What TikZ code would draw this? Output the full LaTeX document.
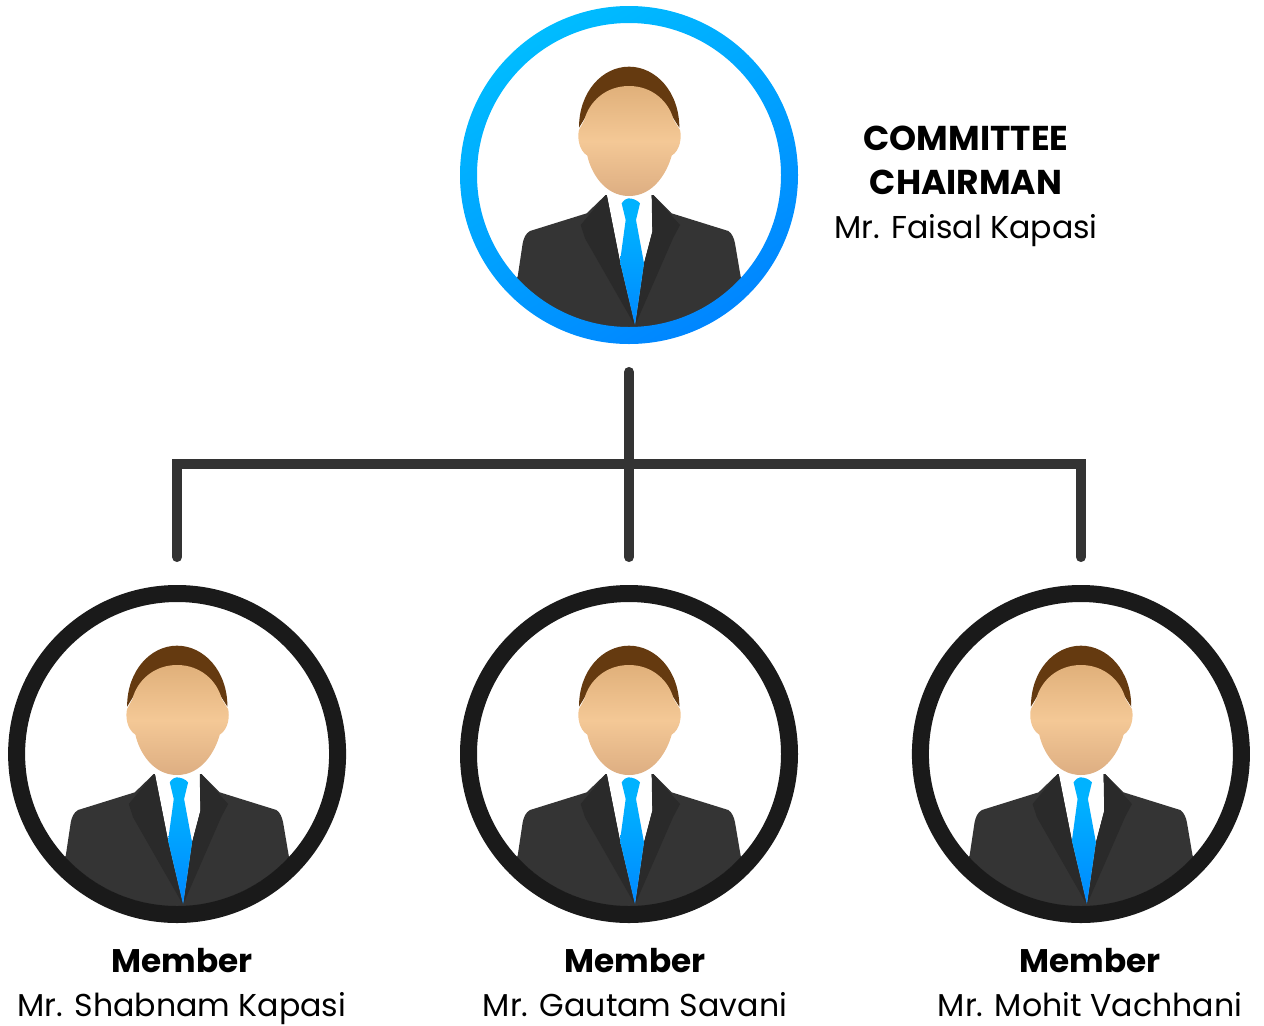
\documentclass[tikz,border=0pt]{standalone}
\usepackage{fontspec}
\setmainfont{Poppins}
\usetikzlibrary{positioning}
\definecolor{ringlight}{HTML}{00BCFF}
\definecolor{ringdeep}{HTML}{0086FF}
\definecolor{ringblack}{HTML}{1A1A1A}
\definecolor{linegrey}{HTML}{333333}
\definecolor{hairbrown}{HTML}{653A10}
\definecolor{skintop}{HTML}{E0B07A}
\definecolor{skinmid}{HTML}{F4C896}
\definecolor{skinlow}{HTML}{DDAE82}
\definecolor{suitgrey}{HTML}{343434}
\definecolor{lapelgrey}{HTML}{2A2A2A}
\definecolor{tietop}{HTML}{00B2FF}
\definecolor{tielow}{HTML}{0088FF}
\newcommand{\chairhead}[1]{{\fontsize{19.6}{25}\selectfont\bfseries #1}}
\newcommand{\memberhead}[1]{{\fontsize{18.6}{25}\selectfont\bfseries #1}}
\tikzset{
    anchorbox/.style = {circle, minimum size=6.76cm, inner sep=0pt, outer sep=0.56cm},
    chairring/.style = {shade, left color=ringlight, right color=ringdeep, shading angle=30},
    memberring/.style = {fill=ringblack},
    conn/.style = {draw=linegrey, line width=0.2cm, line cap=round, miter limit=10},
    titletext/.style = {anchor=north, align=center, font=\fontsize{18}{25}\selectfont, inner sep=0pt},
    person/.pic = {
        \begin{scope}
        \clip (0,0) circle (152.5);
        \begin{scope}[x=0.00667cm,y=-0.00667cm]
        \fill [suitgrey] (-70,60) -- (-127,115) -- (-297,168) .. controls (-310,175) and (-316,190) .. (-319,205) -- (-334,305) -- (-345,320) -- (-345,480) -- (345,480) -- (345,320) -- (335,305) -- (318,205) .. controls (315,190) and (309,175) .. (298,168) -- (128,115) -- (73,60) -- cycle;
        \fill [white] (-67,56) -- (68,56) -- (70,170) -- (45,265) -- (18,445) -- (-27,260) -- cycle;
        \fill [lapelgrey] (-70,60) -- (-145,150) -- (-132,190) -- (15,447) -- (-27,260) -- (-67,60) -- cycle;
        \fill [lapelgrey] (73,60) -- (153,150) -- (132,190) -- (20,447) -- (45,265) -- (70,170) -- (68,60) -- cycle;
        \shade [top color=tietop, bottom color=tielow] (-10,135) -- (21,135) -- (45,265) -- (18,450) -- (-27,260) -- cycle;
        \fill [tietop] (-22,85) .. controls (-15,75) and (-8,70) .. (-2,70) .. controls (10,70) and (25,75) .. (33,85) -- (21,135) -- (-10,135) -- cycle;
        \fill [hairbrown] (-150,-142) .. controls (-150,-250) and (-80,-325) .. (0,-325) .. controls (80,-325) and (151,-250) .. (151,-142) -- (130,-175) -- (-130,-175) -- cycle;
        \shade [top color=skintop, bottom color=skinlow, middle color=skinmid] (0,-267) .. controls (-70,-267) and (-120,-220) .. (-134,-165) -- (-150,-135) .. controls (-155,-115) and (-152,-75) .. (-125,-58) .. controls (-115,-10) and (-75,63) .. (0,63) .. controls (75,63) and (115,-10) .. (128,-58) .. controls (155,-75) and (158,-115) .. (153,-135) -- (134,-165) .. controls (120,-220) and (70,-267) .. (0,-267) -- cycle;
        \end{scope}
        \end{scope}
        \path [#1, even odd rule] (0,0) circle (169) (0,0) circle (152);
    }
}
\begin{document}
\begin{tikzpicture}[x=0.02cm,y=-0.02cm,node distance=9.04cm]
\useasboundingbox (0,0) rectangle (1264,1025);
\node (chair) [anchorbox] at (629,175) {};
\node (memberb) [anchorbox] at (629,754) {};
\node (membera) [anchorbox, left of=memberb] {};
\node (memberc) [anchorbox, right of=memberb] {};
\coordinate (hub) at (629,464);

\pic (chairman) at (chair) {person=chairring};
\pic (shabnam) at (membera) {person=memberring};
\pic (gautam) at (memberb) {person=memberring};
\pic (mohit) at (memberc) {person=memberring};

\draw [conn] (chair.south) -- (memberb.north);
\draw [conn] (membera.north) |- (hub) -| (memberc.north);

\node (chairlabel) [titletext] at (966,125.5) {\chairhead{COMMITTEE}\\\chairhead{CHAIRMAN}\\Mr. Faisal Kapasi};
\node (labela) [titletext] at (182,948) {\memberhead{Member}\\Mr. Shabnam Kapasi};
\node (labelb) [titletext] at (635,948) {\memberhead{Member}\\Mr. Gautam Savani};
\node (labelc) [titletext] at (1090,948) {\memberhead{Member}\\Mr. Mohit Vachhani};
\end{tikzpicture}
\end{document}
